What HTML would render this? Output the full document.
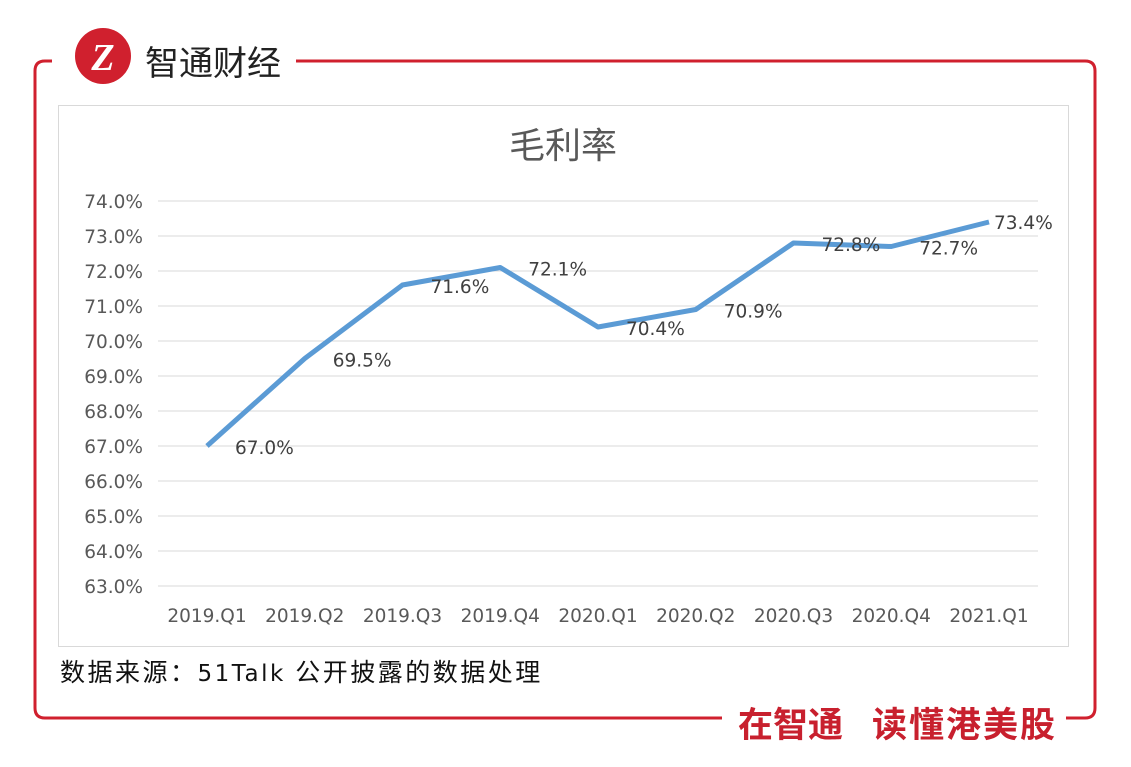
<!DOCTYPE html>
<html><head><meta charset="utf-8"><style>
body{margin:0;width:1131px;height:767px;background:#fff;position:relative;overflow:hidden;font-family:"Liberation Sans","Noto Sans CJK SC",sans-serif}
.abs{position:absolute}
</style></head><body>
<svg class="abs" style="left:0;top:0" width="1131" height="767">
<path d="M52,61 L45,61 Q35,61 35,71 L35,708 Q35,718 45,718 L722,718" fill="none" stroke="#d0202e" stroke-width="3"/>
<path d="M296,61 L1085,61 Q1095,61 1095,71 L1095,708 Q1095,718 1085,718 L1066,718" fill="none" stroke="#d0202e" stroke-width="3"/>
<circle cx="103" cy="56" r="28" fill="#d0202e"/>
<text x="103" y="70" font-family="Liberation Serif,serif" font-size="38" font-style="italic" font-weight="bold" fill="#fff" text-anchor="middle">Z</text>
</svg>
<div class="abs" style="left:145px;top:36px;font-size:34px;color:#222">智通财经</div>
<div class="abs" style="left:738px;top:697px;font-size:35px;font-weight:bold;color:#c8202e;white-space:nowrap">在智通</div>
<div class="abs" style="left:872px;top:697px;font-size:35px;font-weight:bold;color:#c8202e;white-space:nowrap;letter-spacing:2px">读懂港美股</div>
<div class="abs" style="left:58px;top:105px;width:1009px;height:540px;border:1px solid #d9d9d9"></div>
<div class="abs" style="left:60px;top:653px;font-size:25px;color:#111;white-space:nowrap;letter-spacing:2.5px">数据来源：<span style="font-family:'DejaVu Sans',sans-serif;font-size:23px">51Talk</span> 公开披露的数据处理</div>
<svg class="abs" id="chart" style="left:0;top:0" width="1131" height="767"></svg>
<script>
const categories=["2019.Q1","2019.Q2","2019.Q3","2019.Q4","2020.Q1","2020.Q2","2020.Q3","2020.Q4","2021.Q1"];
const values=[67.0,69.5,71.6,72.1,70.4,70.9,72.8,72.7,73.4];
const ticks=[63,64,65,66,67,68,69,70,71,72,73,74];
const NS="http://www.w3.org/2000/svg";
const svg=document.getElementById('chart');
const y=v=>586-(v-63)*35;
const x=i=>207+i*97.75;
function mk(t,a){const e=document.createElementNS(NS,t);for(const k in a)e.setAttribute(k,a[k]);svg.appendChild(e);return e;}
const title=mk('text',{x:563,y:158,'font-size':36,fill:'#595959','text-anchor':'middle'});
title.textContent='毛利率';


ticks.forEach(t=>{
 const l=mk('line',{x1:158,x2:1038,y1:y(t),y2:y(t),stroke:'#d9d9d9','stroke-width':1});
 
 
 const tx=mk('text',{x:143,y:y(t)+7,'font-size':18.5,'font-family':'DejaVu Sans,sans-serif',fill:'#595959','text-anchor':'end'});
 tx.textContent=t.toFixed(1)+'%';
 
 
});
categories.forEach((c,i)=>{
 const tx=mk('text',{x:x(i),y:622,'font-size':18.5,'font-family':'DejaVu Sans,sans-serif',fill:'#595959','text-anchor':'middle'});
 tx.textContent=c;
 
 
});
const pl=mk('polyline',{points:values.map((v,i)=>x(i)+','+y(v)).join(' '),fill:'none',stroke:'#5b9bd5','stroke-width':5,'stroke-linejoin':'round'});


values.forEach((v,i)=>{
 const last=i===values.length-1;
 const tx=mk('text',{x:x(i)+(last?5:28),y:y(v)+(last?7:8),'font-size':18.5,'font-family':'DejaVu Sans,sans-serif',fill:'#404040'});
 tx.textContent=v.toFixed(1)+'%';
 
 
});
</script>
</body></html>
